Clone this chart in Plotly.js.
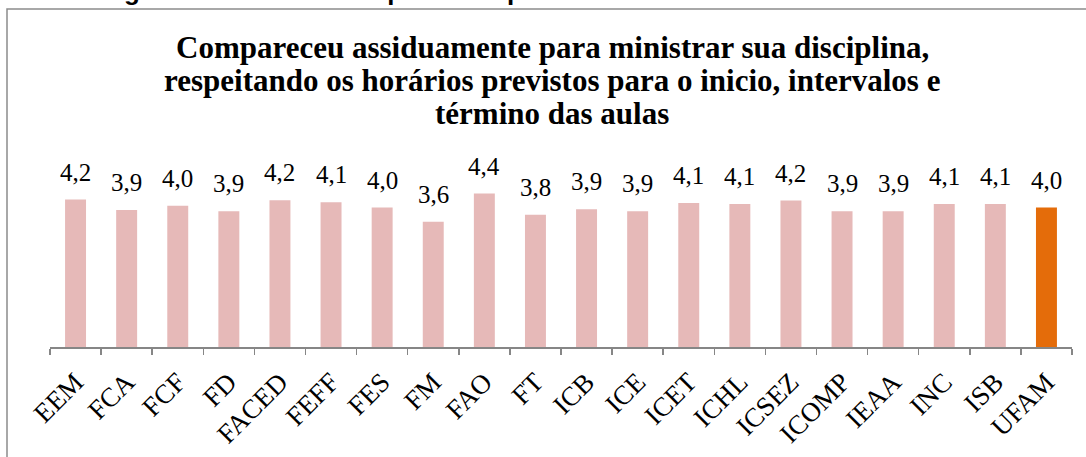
<!DOCTYPE html>
<html>
<head>
<meta charset="utf-8">
<script src="https://cdn.plot.ly/plotly-3.0.1.min.js"></script>
<style>html,body{margin:0;padding:0;background:#fff;}#chart{width:1086px;height:457px;}</style>
</head>
<body>
<div id="chart"></div>
<script>
const categories = ["EEM","FCA","FCF","FD","FACED","FEFF","FES","FM","FAO","FT","ICB","ICE","ICET","ICHL","ICSEZ","ICOMP","IEAA","INC","ISB","UFAM"];
const values = [4.19, 3.89, 4.01, 3.86, 4.17, 4.11, 3.96, 3.56, 4.36, 3.76, 3.91, 3.86, 4.09, 4.06, 4.16, 3.86, 3.86, 4.06, 4.06, 3.96];
const barColors = categories.map(c => c === "UFAM" ? "#E46C0A" : "#E6B9B8");
const titleLines = [
  "Compareceu assiduamente para ministrar sua disciplina,",
  "respeitando os horários previstos para o inicio, intervalos e",
  "término das aulas"
];
const headerText = "Figura 31 – Médias da questão 3 por Unidade Acadêmica";

const serif = "'Liberation Serif', 'Times New Roman', serif";
const sans = "'Liberation Sans', Arial, sans-serif";

// plot area geometry (pixels)
const PL = 50, PW = 1022, PB = 347, PH = 176;
const px2x = p => (p - PL) / PW;
const py2y = p => (PB - p) / PH;

const labelAnnotations = categories.map((c, i) => ({
  x: c, y: values[i], xref: "x", yref: "y",
  text: values[i].toFixed(1).replace(".", ","),
  showarrow: false, yanchor: "bottom", yshift: 12,
  font: {family: serif, size: 25, color: "#000"}
}));

const titleBaselines = [61, 94, 127];
const titleAnnotations = titleLines.map((t, i) => ({
  text: "<b>" + t + "</b>", xref: "paper", yref: "paper",
  x: px2x(552), y: py2y(titleBaselines[i] + 6), xanchor: "center", yanchor: "bottom",
  showarrow: false, font: {family: serif, size: 31, color: "#000"}
}));

const layout = {
  width: 1086, height: 457,
  margin: {l: PL, r: 1086 - PL - PW, t: PB - PH, b: 457 - PB},
  paper_bgcolor: "#fff", plot_bgcolor: "#fff",
  showlegend: false,
  bargap: 0.59,
  separators: ",.",
  font: {family: serif},
  xaxis: {
    type: "category", showline: true, linecolor: "#868686", linewidth: 1.5,
    ticks: "outside", tickson: "boundaries", ticklen: 6, tickcolor: "#868686", tickwidth: 1.5,
    tickangle: -45, tickfont: {family: serif, size: 27, color: "#000"},
    ticklabelstandoff: 7,
    showgrid: false, zeroline: false, fixedrange: true
  },
  yaxis: {range: [0, 5], visible: false, showgrid: false, zeroline: false, fixedrange: true},
  annotations: labelAnnotations.concat(titleAnnotations, [{
    text: "<b>" + headerText + "</b>", xref: "paper", yref: "paper",
    x: px2x(452), y: py2y(-8.5), xanchor: "center", yanchor: "middle",
    showarrow: false, font: {family: sans, size: 26, color: "#000"}
  }]),
  shapes: [{
    type: "rect", xref: "paper", yref: "paper",
    x0: px2x(7), x1: px2x(1100),
    y0: py2y(470), y1: py2y(9),
    line: {color: "#8C8C8C", width: 1.5}, fillcolor: "rgba(0,0,0,0)", layer: "below"
  }]
};

Plotly.newPlot("chart", [{
  type: "bar", x: categories, y: values,
  marker: {color: barColors}, hoverinfo: "x+y"
}], layout, {displayModeBar: false, staticPlot: true});
</script>
</body>
</html>
